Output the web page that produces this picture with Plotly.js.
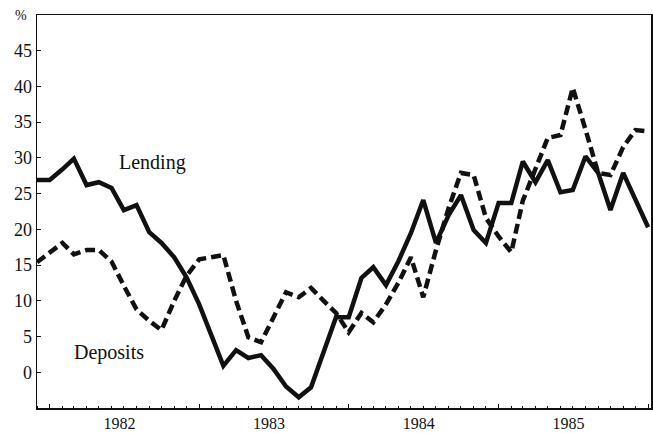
<!DOCTYPE html>
<html>
<head>
<meta charset="utf-8">
<script src="https://cdn.plot.ly/plotly-3.0.1.min.js"></script>
<style>html,body{margin:0;padding:0;background:#fff;}#chart{width:653px;height:433px;}</style>
</head>
<body>
<div id="chart"></div>
<script>
var months = [
  '1981-12-01',
  '1982-01-01','1982-02-01','1982-03-01','1982-04-01','1982-05-01','1982-06-01',
  '1982-07-01','1982-08-01','1982-09-01','1982-10-01','1982-11-01','1982-12-01',
  '1983-01-01','1983-02-01','1983-03-01','1983-04-01','1983-05-01','1983-06-01',
  '1983-07-01','1983-08-01','1983-09-01','1983-10-01','1983-11-01','1983-12-01',
  '1984-01-01','1984-02-01','1984-03-01','1984-04-01','1984-05-01','1984-06-01',
  '1984-07-01','1984-08-01','1984-09-01','1984-10-01','1984-11-01','1984-12-01',
  '1985-01-01','1985-02-01','1985-03-01','1985-04-01','1985-05-01','1985-06-01',
  '1985-07-01','1985-08-01','1985-09-01','1985-10-01','1985-11-01','1985-12-01',
  '1986-01-01'
];
var lending = [
  26.9, 26.9, 28.4, 29.9, 26.2, 26.6, 25.8, 22.7, 23.4, 19.6,
  18.1, 16.1, 13.3, 9.5, 5.0, 0.9, 3.1, 2.0, 2.4, 0.5,
  -2.0, -3.5, -2.1, 3.0, 7.7, 7.7, 13.2, 14.7, 12.2, 15.5,
  19.5, 24.1, 18.1, 22.0, 24.8, 19.9, 18.1, 23.7, 23.7, 29.5,
  26.6, 29.7, 25.2, 25.5, 30.2, 27.9, 22.7, 27.9, 24.0, 20.3
];
var deposits = [
  15.4, 16.7, 18.1, 16.5, 17.1, 17.1, 15.5, 12.1, 8.8, 7.2,
  5.9, 10.0, 13.5, 15.8, 16.2, 16.4, 10.0, 4.9, 4.2, 7.7,
  11.2, 10.5, 11.8, 10.0, 8.3, 5.6, 8.3, 7.0, 9.5, 12.5,
  16.1, 10.5, 17.1, 23.0, 27.9, 27.6, 21.6, 19.0, 16.8, 24.0,
  28.5, 32.8, 33.2, 39.8, 34.0, 27.9, 27.6, 31.5, 33.9, 33.7
];
var yTicks = [0, 5, 10, 15, 20, 25, 30, 35, 40, 45];
var serif = 'Liberation Serif, Times New Roman, serif';

var traces = [
  {x: months, y: lending, type: 'scatter', mode: 'lines', name: 'Lending',
   line: {color: '#111', width: 4.5}},
  {x: months, y: deposits, type: 'scatter', mode: 'lines', name: 'Deposits',
   line: {color: '#111', width: 4.5, dash: '10px,5px'}}
];

var layout = {
  width: 653, height: 433,
  margin: {l: 37, r: 2, t: 15, b: 25},
  paper_bgcolor: '#fff', plot_bgcolor: '#fff',
  showlegend: false,
  font: {family: serif, color: '#111', size: 17},
  xaxis: {
    type: 'date',
    range: ['1981-12-01', '1986-01-08'],
    dtick: 'M12', tick0: '1982-01-01',
    ticklabelmode: 'period',
    ticklabelshift: -5,
    tickformat: '%Y',
    ticks: 'inside', ticklen: 4, tickcolor: '#111',
    minor: {dtick: 'M1', ticks: 'inside', ticklen: 2, tickcolor: '#111'},
    showgrid: false, zeroline: false,
    showline: true, linecolor: '#111', linewidth: 1.5, mirror: true,
    tickfont: {family: serif, size: 16, color: '#111'}
  },
  yaxis: {
    range: [-5, 50],
    tickvals: yTicks,
    ticks: 'inside', ticklen: 4, tickcolor: '#111',
    showgrid: false, zeroline: false,
    showline: true, linecolor: '#111', linewidth: 1.5, mirror: true,
    tickfont: {family: serif, size: 18, color: '#111'}
  },
  annotations: [
    {x: '1982-09-10', y: 29.4, xref: 'x', yref: 'y', text: 'Lending', showarrow: false,
     font: {family: serif, size: 20, color: '#111'}},
    {x: '1982-05-25', y: 2.8, xref: 'x', yref: 'y', text: 'Deposits', showarrow: false,
     font: {family: serif, size: 20, color: '#111'}},
    {x: -0.039, y: 1.0, xref: 'paper', yref: 'paper', yanchor: 'middle', text: '%', showarrow: false,
     font: {family: serif, size: 14, color: '#111'}}
  ]
};

Plotly.newPlot('chart', traces, layout, {displayModeBar: false, staticPlot: true});
</script>
</body>
</html>
